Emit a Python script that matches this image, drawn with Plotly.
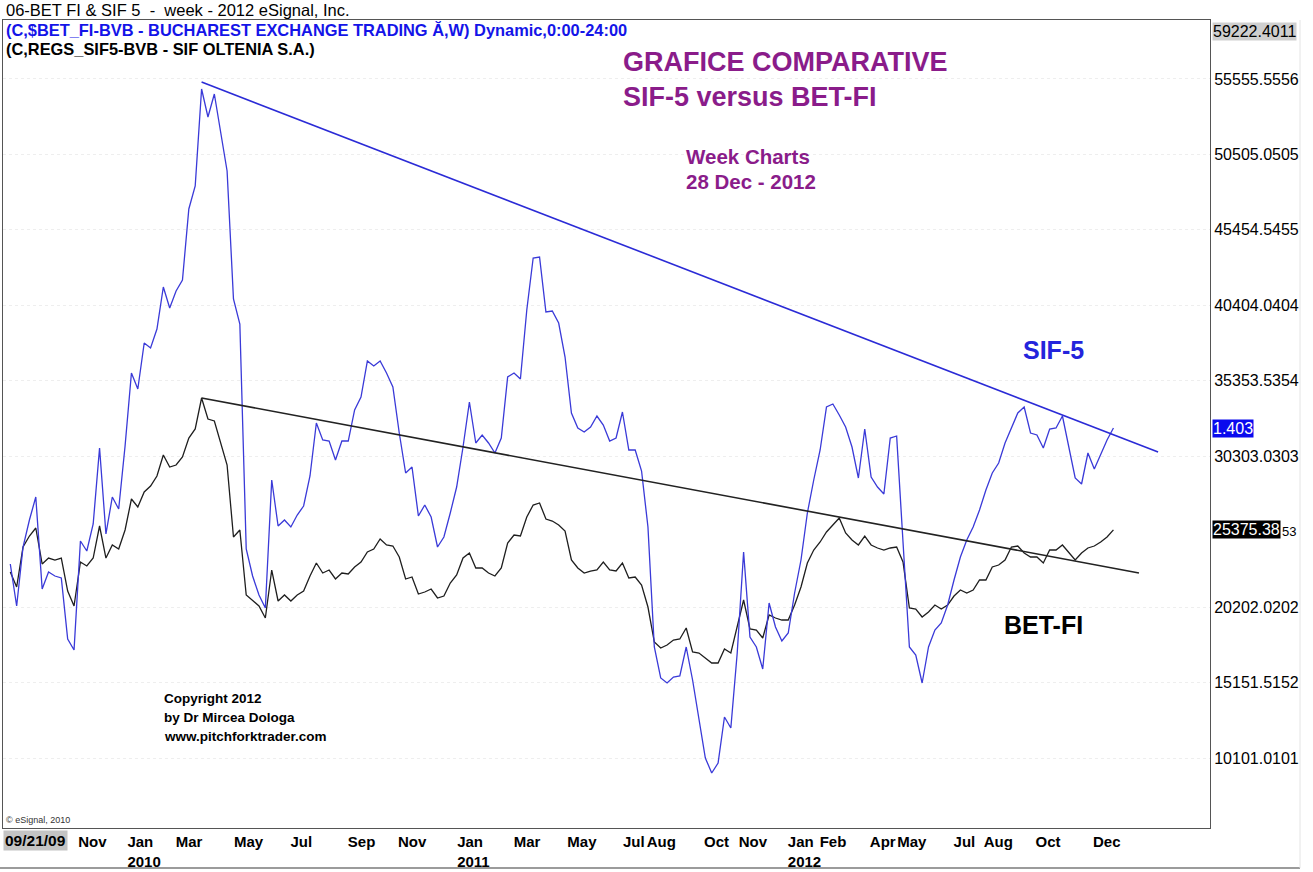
import pandas as pd
import plotly.graph_objects as go

# ---------------- data (weekly closes, SIF-5 scaled onto the BET-FI axis) ----------------
week_start = "2009-09-04"
n_weeks = 174

sif5 = [
    23089, 20277, 24227, 26034, 27574, 21415, 22553, 22286, 22152, 18068,
    17332, 24628, 23959, 25766, 30854, 25097, 27574, 26771, 30988, 35874,
    34803, 37883, 37548, 38820, 41631, 40225, 41363, 42100, 46853, 48392,
    54885, 53011, 54551, 51940, 49396, 40828, 39154, 24093, 22286, 21014,
    20143, 28712, 25633, 26034, 25566, 26369, 26971, 28980, 32527, 31389,
    31322, 30051, 31322, 31322, 33398, 34268, 36678, 36343, 36678, 35874,
    34937, 31858, 29180, 29582, 26302, 27038, 26235, 24227, 24896, 26503,
    28243, 30921, 33933, 31189, 31724, 31189, 30519, 31523, 35607, 35874,
    35473, 40092, 43572, 43639, 39958, 40025, 39221, 36945, 33197, 32193,
    31925, 32260, 32996, 32393, 31322, 31523, 33264, 30720, 30720, 29314,
    25566, 17533, 15458, 15123, 15525, 15592, 17533, 15324, 12847, 10102,
    9098, 9768, 12847, 12111, 17131, 23892, 18202, 17533, 16060, 20478,
    18872, 17934, 18470, 21148, 23357, 26503, 28712, 30720, 33598, 33799,
    33063, 32260, 30921, 28846, 32126, 28913, 28243, 27775, 31523, 31657,
    24562, 17533, 16997, 15123, 17533, 18671, 19139, 20344, 22018, 23557,
    24695, 25566, 26704, 28042, 29180, 29850, 31189, 32260, 33197, 33598,
    31858, 31724, 30854, 32126, 32193, 32996, 30854, 28846, 28444, 30519,
    29448, 30385, 31389, 32193,
]

betfi = [
    22553, 21549, 24227, 24963, 25499, 23089, 23490, 23357, 23490, 21281,
    20277, 23223, 22955, 23490, 25633, 23490, 24361, 24093, 25365, 27440,
    26904, 27909, 28310, 28980, 30385, 29582, 29716, 30251, 31523, 32126,
    34201, 32795, 32661, 31122, 29716, 24896, 25365, 21014, 20612, 20277,
    19474, 22687, 20612, 21014, 20612, 21014, 21281, 22286, 23156, 22486,
    22687, 22085, 22486, 22419, 22888, 23223, 23892, 24093, 24762, 24361,
    24294, 23557, 22085, 22219, 21081, 21215, 21415, 20813, 20947, 21817,
    22352, 23490, 23825, 22821, 22821, 22486, 22286, 22821, 24495, 25030,
    24963, 26235, 27038, 27172, 26101, 25967, 25699, 25298, 23357, 22821,
    22486, 22620, 22687, 23223, 22687, 22620, 23156, 22152, 22219, 21683,
    20210, 17868, 17466, 17667, 18001, 18068, 18805, 17198, 17131, 16796,
    16462, 16462, 17399, 17131, 18872, 20679, 18738, 18671, 18135, 19675,
    19474, 19340, 19340, 20344, 21549, 23156, 24026, 24562, 25231, 25699,
    26168, 25164, 24695, 24361, 24963, 24361, 24160, 24026, 24160, 24227,
    23223, 20143, 20077, 19541, 19876, 20344, 20077, 20344, 20947, 21348,
    21148, 21348, 22018, 22018, 22888, 23022, 23357, 24227, 24294, 23825,
    23557, 23557, 23156, 24026, 24026, 24361, 23892, 23357, 23825, 24160,
    24294, 24562, 24896, 25375,
]

# trend lines (date, value)
sif5_trend_dates = ["2010-04-02", "2013-02-15"]
sif5_trend_values = [55354, 30586]
betfi_trend_dates = ["2010-04-02", "2013-01-25"]
betfi_trend_values = [34201, 22486]

# axes
x_range = ["2009-08-27", "2013-04-13"]
y_range = [5417, 59504]
y_tickvals = [10101.0101, 15151.5152, 20202.0202, 30303.0303, 35353.5354,
              40404.0404, 45454.5455, 50505.0505, 55555.5556]
y_ticktext = ["10101.0101", "15151.5152", "20202.0202", "30303.0303", "35353.5354",
              "40404.0404", "45454.5455", "50505.0505", "55555.5556"]
x_tickvals = ["2009-11-17", "2010-01-10", "2010-03-04", "2010-05-07", "2010-07-08",
              "2010-09-09", "2010-11-03", "2011-01-07", "2011-03-10", "2011-05-08",
              "2011-07-08", "2011-08-03", "2011-10-05", "2011-11-12", "2012-01-05",
              "2012-02-09", "2012-04-04", "2012-05-04", "2012-07-05", "2012-08-07",
              "2012-10-03", "2012-12-05"]
x_ticktext = ["Nov", "Jan<br>2010", "Mar", "May", "Jul", "Sep", "Nov", "Jan<br>2011",
              "Mar", "May", "Jul", "Aug", "Oct", "Nov", "Jan<br>2012", "Feb", "Apr",
              "May", "Jul", "Aug", "Oct", "Dec"]
first_bar_label = "09/21/09"
top_value_label = "59222.4011"
sif5_last_label = "1.403"
betfi_last_label_a = "25375.38"
betfi_last_label_b = "53"

weeks = pd.date_range(week_start, periods=n_weeks, freq="7D")

# ---------------- figure ----------------
FONT = "Liberation Sans, Arial, Helvetica, sans-serif"
PURPLE = "#8a1c8a"
BLUE_LINE = "#3a3ad8"
BLUE_TEXT = "#1414e8"

L, R, T, B = 3, 103, 20, 44
W, H = 1313, 872
PW, PH = W - L - R, H - T - B


def px_x(x):
    return (x - L) / PW


def px_y(y):
    return (H - B - y) / PH


fig = go.Figure()
fig.add_trace(go.Scatter(x=weeks, y=betfi, mode="lines", name="BET-FI",
                         line=dict(color="#1e1e1e", width=1.3)))
fig.add_trace(go.Scatter(x=weeks, y=sif5, mode="lines", name="SIF-5",
                         line=dict(color=BLUE_LINE, width=1.3)))
fig.add_trace(go.Scatter(x=sif5_trend_dates, y=sif5_trend_values, mode="lines",
                         line=dict(color="#2b2bd6", width=1.6), hoverinfo="skip"))
fig.add_trace(go.Scatter(x=betfi_trend_dates, y=betfi_trend_values, mode="lines",
                         line=dict(color="#222222", width=1.6), hoverinfo="skip"))

ann = []


def text(s, x, y, size, color="black", bold=False, xanchor="left", yanchor="middle", **kw):
    ann.append(dict(text=s, x=px_x(x), y=px_y(y), xref="paper", yref="paper",
                    xanchor=xanchor, yanchor=yanchor, showarrow=False,
                    font=dict(family=FONT, size=size, color=color,
                              weight="bold" if bold else "normal"), **kw))


text("06-BET FI & SIF 5\u00a0 -\u00a0 week - 2012 eSignal, Inc.", 4, 10, 16.5)
text("(C,$BET_FI-BVB - BUCHAREST EXCHANGE TRADING Ă,W) Dynamic,0:00-24:00", 4, 30, 16.4,
     BLUE_TEXT, True)
text("(C,REGS_SIF5-BVB - SIF OLTENIA S.A.)", 4, 49, 16.4, "black", True)
text("GRAFICE COMPARATIVE", 621, 62, 27, PURPLE, True)
text("SIF-5 versus BET-FI", 621, 97, 27, PURPLE, True)
text("Week Charts", 684, 156, 20.5, PURPLE, True)
text("28 Dec - 2012", 684, 182, 20.5, PURPLE, True)
text("SIF-5", 1021, 350, 25, "#2424dc", True)
text("BET-FI", 1002, 625, 25, "black", True)
text("Copyright 2012", 162, 698, 13.5, "black", True)
text("by Dr Mircea Dologa", 162, 717, 13.5, "black", True)
text("www.pitchforktrader.com", 162, 736, 13.5, "black", True)
text("© eSignal, 2010", 4, 820, 9, "#333333")
text(first_bar_label, 3, 841, 15.5, "black", True, bgcolor="#c4c4c4", borderpad=1)
text(top_value_label, 1212, 31, 16, "black", False, bgcolor="#cfcfcf", borderpad=0)

ann.append(dict(text=sif5_last_label, x=1, y=sif5[-1], xref="paper", yref="y",
                xanchor="left", yanchor="middle", xshift=2, showarrow=False,
                bgcolor="#0a0aee", borderpad=0,
                font=dict(family=FONT, size=16, color="white")))
ann.append(dict(text=betfi_last_label_a, x=1, y=betfi[-1], xref="paper", yref="y",
                xanchor="left", yanchor="middle", xshift=2, showarrow=False,
                bgcolor="black", borderpad=0,
                font=dict(family=FONT, size=16, color="white")))
ann.append(dict(text=betfi_last_label_b, x=1, y=betfi[-1], xref="paper", yref="y",
                xanchor="left", yanchor="middle", xshift=70, yshift=-2, showarrow=False,
                font=dict(family=FONT, size=13, color="black")))

shapes = [
    dict(type="line", xref="paper", yref="paper", x0=px_x(0), x1=px_x(1300),
         y0=px_y(868), y1=px_y(868), line=dict(color="#7a7a7a", width=1.5)),
    dict(type="line", xref="paper", yref="paper", x0=px_x(1300), x1=px_x(1300),
         y0=px_y(868), y1=px_y(20), line=dict(color="#e4e4e4", width=1)),
]

fig.update_layout(
    width=W, height=H,
    margin=dict(l=L, r=R, t=T, b=B, pad=0),
    paper_bgcolor="white", plot_bgcolor="white",
    showlegend=False, hovermode=False,
    font=dict(family=FONT, color="black"),
    annotations=ann, shapes=shapes,
    xaxis=dict(type="date", range=x_range, tickvals=x_tickvals, ticktext=x_ticktext,
               ticklabelposition="outside right", tickangle=0, ticks="",
               tickfont=dict(family=FONT, size=15, color="black", weight="bold"),
               showgrid=False, zeroline=False,
               showline=True, mirror=True, linecolor="#555555", linewidth=1),
    yaxis=dict(side="right", range=y_range, tickvals=y_tickvals, ticktext=y_ticktext,
               ticks="", tickfont=dict(family=FONT, size=16, color="black"),
               showgrid=True, gridcolor="#eeeeee", griddash="dot", zeroline=False,
               showline=True, mirror=True, linecolor="#555555", linewidth=1),
)

fig.write_html("out.html",
               config={"displayModeBar": False, "staticPlot": True},
               post_script="document.body.style.margin='0px';"
                           "document.body.style.overflow='hidden';")
